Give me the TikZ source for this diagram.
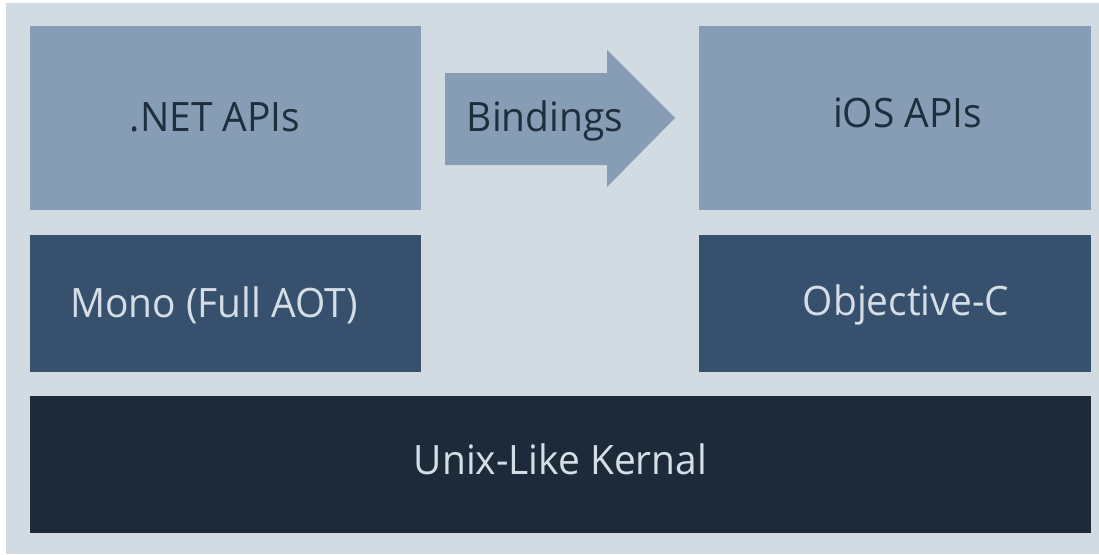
\documentclass[tikz,border=0pt]{standalone}
\usepackage{fontspec}
\setmainfont[FakeStretch=0.96]{Open Sans}
\definecolor{bgc}{HTML}{D2DBE2}
\definecolor{lightbox}{HTML}{879DB5}
\definecolor{midbox}{HTML}{36506E}
\definecolor{darkbox}{HTML}{1D2A3A}
\definecolor{darktext}{HTML}{1F2E3D}
\definecolor{lighttext}{HTML}{D5DEE6}
\begin{document}
\begin{tikzpicture}[x=1pt,y=-1pt,
  blk/.style={inner sep=0pt, outer sep=0pt},
  lbl/.style={anchor=base, inner sep=0pt, font=\fontsize{40.5}{48}\selectfont},
  dlbl/.style={lbl, text=darktext},
  llbl/.style={lbl, text=lighttext}]
\useasboundingbox (0,0) rectangle (1099,554);
\fill[white] (0,0) rectangle (1099,554);
\fill[bgc] (6,3) rectangle (1099,554);
% boxes
\fill[lightbox] (30,26) rectangle (421,210);
\fill[lightbox] (699,26) rectangle (1091,210);
\fill[midbox] (30,235) rectangle (421,372);
\fill[midbox] (699,235) rectangle (1091,372);
\fill[darkbox] (30,396) rectangle (1091,533);
% arrow
\fill[lightbox] (445,73) -- (607,73) -- (607,50) -- (675,118) -- (607,187) -- (607,165) -- (445,165) -- cycle;
% labels
\node[dlbl] (net) at (215,131.7) {.NET APIs};
\node[dlbl] (ios) at (907.5,127) {iOS APIs};
\node[dlbl] (bind) at (545,131.7) {Bindings};
\node[llbl] (mono) at (214,317.7) {Mono (Full AOT)};
\node[llbl] (objc) at (906,315.7) {Objective-C};
\node[llbl] (unix) at (560.5,474) {Unix-Like Kernal};
\end{tikzpicture}
\end{document}
